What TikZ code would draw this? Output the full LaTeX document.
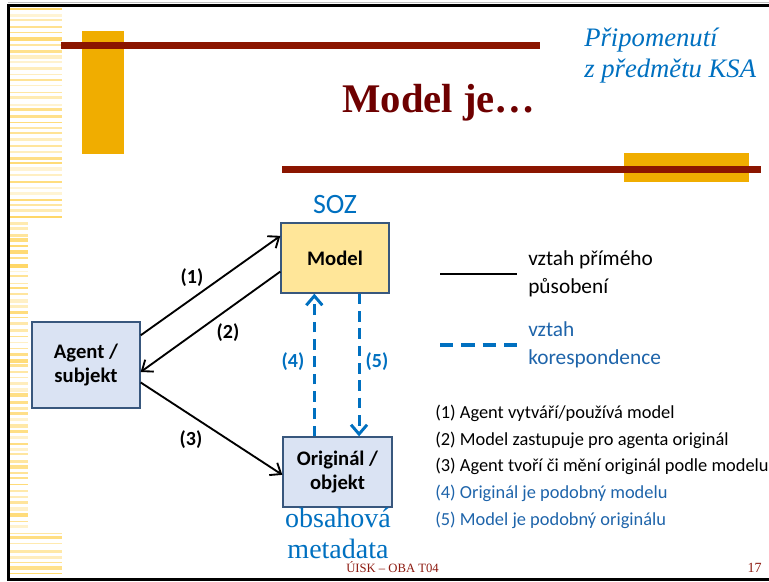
\documentclass[tikz,border=0pt]{standalone}
\usepackage{fontspec}
\setmainfont{Carlito}
\newfontfamily\slideserif{Liberation Serif}
\usetikzlibrary{arrows.meta,calc}
\definecolor{goldbar}{RGB}{240,173,0}
\definecolor{redbar}{RGB}{139,21,0}
\definecolor{titlered}{RGB}{110,0,0}
\definecolor{stripe}{RGB}{255,214,100}
\definecolor{sozblue}{RGB}{0,112,192}
\definecolor{listblue}{RGB}{30,100,170}
\definecolor{modelfill}{RGB}{255,230,153}
\definecolor{agentfill}{RGB}{218,227,243}
\definecolor{boxline}{RGB}{56,87,125}
\definecolor{footred}{RGB}{140,25,15}

\begin{document}
\begin{tikzpicture}[x=0.75pt,y=-0.75pt,
  box/.style={draw=boxline,line width=1pt,align=center,inner sep=0pt,
    minimum width=81pt,minimum height=52.5pt,font=\fontsize{15.5}{18}\selectfont\bfseries},
  direct/.style={line width=1.4pt,-{Straight Barb[length=7pt,width=11pt]}},
  corr/.style={sozblue,line width=2.2pt,dash pattern=on 8pt off 5pt,-{Straight Barb[length=7pt,width=12pt]}},
  lbl/.style={font=\fontsize{15}{18}\selectfont\bfseries}]
  \useasboundingbox (0,0) rectangle (769,582);
  % slide frame and stripes
  \pgfmathsetseed{11}
  \foreach \i in {0,...,95} {
    \pgfmathsetmacro\yy{8+\i*5.95+2*rnd}
    \pgfmathsetmacro\xr{(\yy<218 || \yy>530) ? 62 : 28}
    \pgfmathsetmacro\op{0.25+0.75*rnd}
    \pgfmathsetmacro\lw{0.8+2.2*rnd}
    \draw[stripe,opacity=\op,line width=\lw pt] (10,\yy) -- (\xr,\yy);
  }
  \draw[black!25,line width=1pt] (8,2.5) -- (769,2.5);
  \draw[line width=2.2pt] (769,5.5) -- (8.5,5.5) -- (8.5,579.5) -- (769,579.5);
  \fill[goldbar] (82,31) rectangle (124,154);
  \fill[redbar] (61,42) rectangle (540,49);
  \fill[goldbar] (624,153) rectangle (749,182);
  \fill[redbar] (282,166) rectangle (761,173);
  % titles (base = last line)
  \node[anchor=base,titlered,font=\slideserif\bfseries\fontsize{30.5}{36}\selectfont] (title) at (439,112) {Model je…};
  \node[anchor=base west,align=left,inner sep=0pt,sozblue,font=\slideserif\itshape\fontsize{20}{23}\selectfont] (ksa) at (584,77) {Připomenutí\\z předmětu KSA};
  % diagram
  \node[box,fill=modelfill] (model) at (335,258) {Model};
  \node[box,fill=agentfill,minimum height=64.5pt] (agent) at (86,365) {Agent /\\subjekt};
  \node[box,fill=agentfill,minimum width=81.75pt] (orig) at (337.5,472) {Originál /\\objekt};
  \node[anchor=base,sozblue,font=\fontsize{21}{24}\selectfont] (soz) at (335,213) {SOZ};
  \node[anchor=base,align=center,inner sep=0pt,sozblue,font=\slideserif\fontsize{21}{23}\selectfont] (meta) at (338,558) {obsahová\\metadata};
  \draw[direct] ($(agent.north east)!0.16!(agent.south east)$) -- ($(model.north west)!0.19!(model.south west)$);
  \draw[direct] ($(model.north west)!0.69!(model.south west)$) -- ($(agent.north east)!0.58!(agent.south east)$);
  \draw[direct] ($(agent.north east)!0.70!(agent.south east)$) -- ($(orig.north west)!0.54!(orig.south west)$);
  \draw[corr] ($(orig.north west)!0.29!(orig.north east)$) coordinate (o4) -- (o4 |- model.south);
  \draw[corr] ($(model.south west)!0.72!(model.south east)$) coordinate (m5) -- (m5 |- orig.north);
  \node[lbl] (l1) at (192,278) {(1)};
  \node[lbl] (l2) at (228,333) {(2)};
  \node[lbl] (l3) at (191,440) {(3)};
  \node[lbl,sozblue] (l4) at (293,362) {(4)};
  \node[lbl,sozblue] (l5) at (377,362) {(5)};
  % legend
  \coordinate (sa) at (440,274); \coordinate (sb) at (517,274);
  \coordinate (da) at (440,345); \coordinate (db) at (517,345);
  \draw[line width=2pt] (sa) -- (sb);
  \draw[sozblue,line width=2.4pt,dash pattern=on 10pt off 6pt] (da) -- (db);
  \node[anchor=base west,align=left,inner sep=0pt,font=\fontsize{16}{20.5}\selectfont] (direct) at (528,293) {vztah přímého\\působení};
  \node[anchor=base west,align=left,inner sep=0pt,listblue,font=\fontsize{16}{20.5}\selectfont] (korr) at (528,364) {vztah\\korespondence};
  \node[anchor=base west,align=left,inner sep=0pt,font=\fontsize{13.8}{19.9}\selectfont] (list) at (435,525)
    {(1) Agent vytváří/používá model\\(2) Model zastupuje pro agenta originál\\(3) Agent tvoří či mění originál podle modelu\\
     \textcolor{listblue}{(4) Originál je podobný modelu}\\\textcolor{listblue}{(5) Model je podobný originálu}};
  % footer
  \node[anchor=base west,inner sep=0pt,footred,font=\slideserif\fontsize{9.5}{11}\selectfont] (foot) at (346,572) {ÚISK – OBA T04};
  \node[anchor=base east,inner sep=0pt,footred,font=\slideserif\fontsize{10.5}{12}\selectfont] (page) at (762,572) {17};
\end{tikzpicture}
\end{document}
